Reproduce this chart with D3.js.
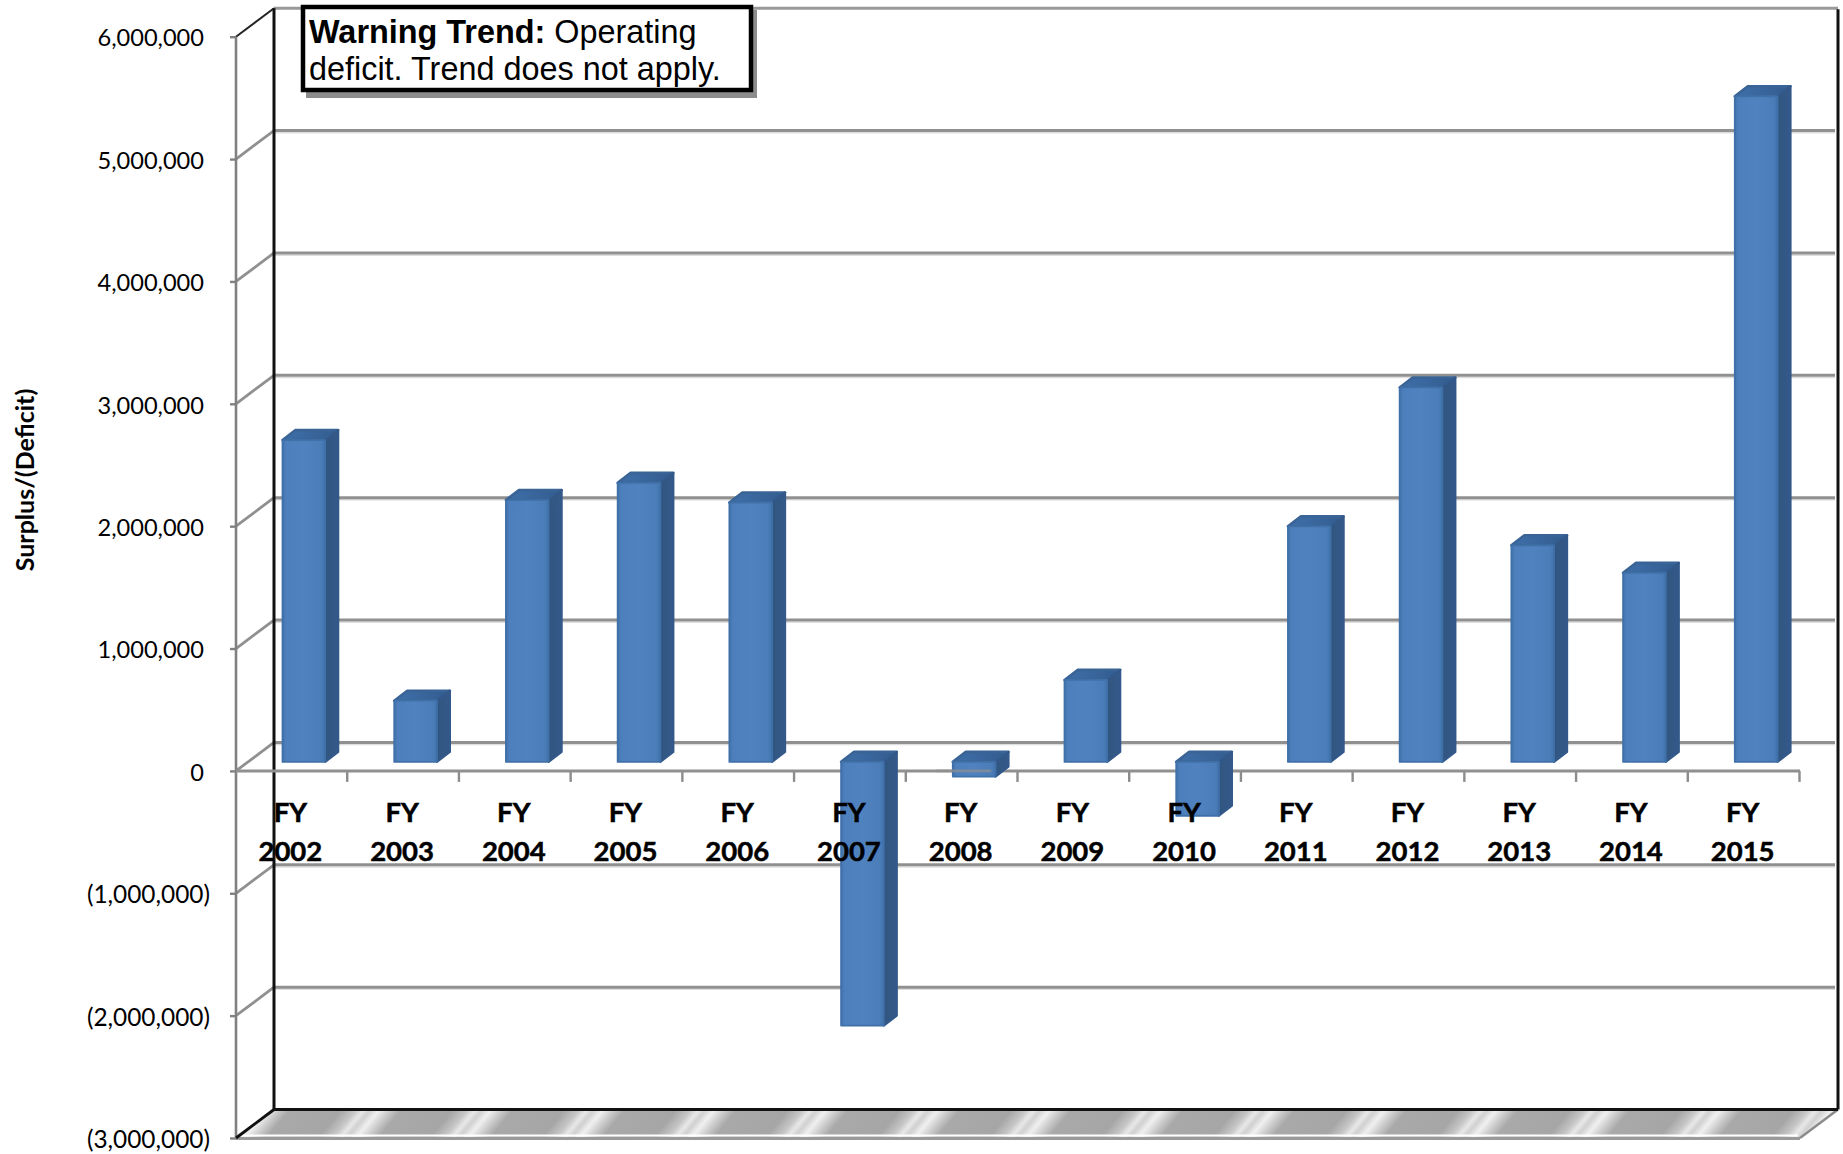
<!DOCTYPE html>
<html>
<head>
<meta charset="utf-8">
<script src="https://cdn.jsdelivr.net/npm/d3@7/dist/d3.min.js"></script>
<style>
html,body{margin:0;padding:0;background:#fff;}
svg{display:block;}
</style>
</head>
<body>
<svg id="chart" width="1843" height="1154"></svg>
<script>
const fiscalYears = ["2002","2003","2004","2005","2006","2007","2008","2009","2010","2011","2012","2013","2014","2015"];
const surplus = [2630000,500000,2140000,2280000,2120000,-2155000,-120000,670000,-440000,1925000,3060000,1770000,1545000,5440000];
const yTicks = [6000000,5000000,4000000,3000000,2000000,1000000,0,-1000000,-2000000,-3000000];
const axisTitle = "Surplus/(Deficit)";
const noteBold = "Warning Trend:";
const noteLine1 = " Operating";
const noteLine2 = "deficit. Trend does not apply.";

const W = 1843, H = 1154;
const svg = d3.select("#chart");
const defs = svg.append("defs");

// front plane scales
const y = d3.scaleLinear().domain([-3000000,6000000]).range([1138,36.7]);
const x = d3.scaleBand().domain(fiscalYears).range([236,1800]).paddingInner(0).paddingOuter(0);
const xEdge = d3.scaleLinear().domain([0,fiscalYears.length]).range([235,1799]);

// 3D offsets
const wallDx = 38, wallDy = -28.5;      // front plane -> back wall
const barPlaneDx = 12, barPlaneDy = -9; // front plane -> bar front face
const barDx = 13, barDy = -10;          // bar depth
const barW = x.bandwidth()*0.382;

// gradients
const faceGrad = defs.append("linearGradient").attr("id","face");
[[0,"#4272ab"],[0.08,"#4d7fbc"],[0.5,"#5082bf"],[0.9,"#4b7db9"],[1,"#4274ad"]].forEach(s=>faceGrad.append("stop").attr("offset",s[0]).attr("stop-color",s[1]));
const sideGrad = defs.append("linearGradient").attr("id","side");
[[0,"#30567f"],[1,"#35598a"]].forEach(s=>sideGrad.append("stop").attr("offset",s[0]).attr("stop-color",s[1]));
const topGrad = defs.append("linearGradient").attr("id","top");
[[0,"#3f6fa9"],[1,"#325c8f"]].forEach(s=>topGrad.append("stop").attr("offset",s[0]).attr("stop-color",s[1]));

const floorGrad = defs.append("linearGradient").attr("id","floorG");
[[0,"#f0f0f0"],[0.1,"#cbcbcb"],[0.2,"#a9a9a9"],[0.66,"#a6a6a6"],[0.79,"#c6c6c6"],[0.86,"#e8e8e8"],[0.92,"#d0d0d0"],[1,"#f0f0f0"]].forEach(s=>floorGrad.append("stop").attr("offset",s[0]).attr("stop-color",s[1]));
const pat = defs.append("pattern").attr("id","floorP").attr("patternUnits","userSpaceOnUse")
  .attr("width",x.bandwidth()).attr("height",40)
  .attr("patternTransform",`translate(268,${y(-3000000)+wallDy}) skewX(-40)`);
pat.append("rect").attr("width",x.bandwidth()).attr("height",40).attr("fill","url(#floorG)");

const GRID = "#909090";
const front0 = 236, frontN = 1800;

// floor
const floorY = y(-3000000);
const floor = svg.append("g");
floor.append("polygon")
  .attr("points",[[front0,floorY],[frontN,floorY],[frontN+wallDx,floorY+wallDy],[front0+wallDx,floorY+wallDy]].map(p=>p.join(",")).join(" "))
  .attr("fill","url(#floorP)");
floor.append("line").attr("x1",front0+4).attr("x2",frontN-2).attr("y1",floorY-2.5).attr("y2",floorY-2.5).attr("stroke","#fff").attr("stroke-width",2);
floor.append("line").attr("x1",front0).attr("x2",frontN).attr("y1",floorY+0.5).attr("y2",floorY+0.5).attr("stroke","#9a9a9a").attr("stroke-width",3);
floor.append("line").attr("x1",frontN).attr("x2",frontN+wallDx).attr("y1",floorY).attr("y2",floorY+wallDy).attr("stroke","#8c8c8c").attr("stroke-width",2.5);

// back wall gridlines and the diagonals
const grid = svg.append("g").attr("fill","none");
yTicks.forEach(v=>{
  if(v===-3000000) return;
  const yy = y(v)+wallDy;
  if(v!==6000000){
    grid.append("line").attr("x1",front0+wallDx).attr("x2",frontN+wallDx-3).attr("y1",yy+2.2).attr("y2",yy+2.2).attr("stroke","#dedede").attr("stroke-width",1.5);
  }
  grid.append("line").attr("x1",front0+wallDx).attr("x2",frontN+wallDx-(v===6000000?0:3)).attr("y1",yy).attr("y2",yy).attr("stroke",v===6000000?"#999":GRID).attr("stroke-width",3);
  grid.append("line").attr("x1",front0).attr("x2",front0+wallDx).attr("y1",y(v)).attr("y2",yy)
    .attr("stroke",v===6000000?"#222":GRID).attr("stroke-width",v===6000000?2:2.8);
});

// left front axis line
grid.append("line").attr("x1",front0).attr("x2",front0).attr("y1",y(6000000)).attr("y2",y(-3000000)).attr("stroke","#808080").attr("stroke-width",2.6);

// back wall frame
const frame = svg.append("g").attr("fill","none").attr("stroke","#111");
frame.append("line").attr("x1",front0+wallDx).attr("x2",front0+wallDx).attr("y1",y(6000000)+wallDy).attr("y2",floorY+wallDy).attr("stroke-width",3);
frame.append("line").attr("x1",frontN+wallDx).attr("x2",frontN+wallDx).attr("y1",y(6000000)+wallDy+1).attr("y2",floorY+wallDy).attr("stroke-width",3);
frame.append("line").attr("x1",front0+wallDx).attr("x2",frontN+wallDx).attr("y1",floorY+wallDy).attr("y2",floorY+wallDy).attr("stroke-width",3);
frame.append("line").attr("x1",front0).attr("x2",front0+wallDx).attr("y1",floorY).attr("y2",floorY+wallDy).attr("stroke-width",3);

// y axis (tick marks + labels)
const fmt = d3.format(",");
const yAxis = d3.axisLeft(y).tickValues(yTicks).tickSize(6).tickFormat(v=> v<0 ? "("+fmt(-v)+")" : fmt(v));
const yG = svg.append("g").attr("transform",`translate(${front0},0)`).call(yAxis);
yG.select(".domain").remove();
yG.selectAll(".tick line").attr("stroke","#808080").attr("stroke-width",2.4);
yG.selectAll(".tick text")
  .attr("x",v=> v<0 ? -26 : -32)
  .attr("dy","0.39em")
  .attr("fill","#000")
  .style("font-family","Lato, 'Noto Sans', sans-serif")
  .style("font-size",v=> v<0 ? "24.4px" : "23.6px");

// x axis line with tick marks at category edges
const zeroY = y(0);
const xAxis = d3.axisBottom(xEdge).tickValues(d3.range(1,fiscalYears.length+1)).tickSize(11).tickFormat("");
const xG = svg.append("g").attr("transform",`translate(0,${zeroY})`).call(xAxis);
xG.select(".domain").remove();
xG.selectAll(".tick line").attr("stroke","#8c8c8c").attr("stroke-width",2.4);
svg.append("line").attr("x1",front0).attr("x2",frontN).attr("y1",zeroY).attr("y2",zeroY).attr("stroke",GRID).attr("stroke-width",3);

// bars
const bars = svg.append("g").selectAll("g").data(fiscalYears.map((f,i)=>({f,v:surplus[i]}))).join("g");
bars.each(function(d){
  const g = d3.select(this);
  const x0 = x(d.f)+x.bandwidth()/2-barW/2+barPlaneDx;
  const x1 = x0+barW;
  const yA = y(Math.max(d.v,0))+barPlaneDy;
  const yB = y(Math.min(d.v,0))+barPlaneDy;
  const poly = (pts,fill,stroke,w)=>g.append("polygon")
    .attr("points",pts.map(p=>p.join(",")).join(" "))
    .attr("fill",fill).attr("stroke",stroke).attr("stroke-width",w).attr("stroke-linejoin","round");
  poly([[x0,yA],[x1,yA],[x1+barDx,yA+barDy],[x0+barDx,yA+barDy]],"url(#top)","#3a6496",2.6);
  poly([[x1,yA],[x1+barDx,yA+barDy],[x1+barDx,yB+barDy],[x1,yB]],"url(#side)","#33588a",2.2);
  poly([[x0,yA],[x1,yA],[x1,yB],[x0,yB]],"url(#face)","#4070a8",1.8);
});
// faint axis showing through the shallow FY 2008 bar
svg.append("line").attr("x1",x(fiscalYears[6])+30).attr("x2",x(fiscalYears[6])+85).attr("y1",zeroY).attr("y2",zeroY).attr("stroke",GRID).attr("stroke-width",2.6).attr("opacity",0.7);

// category labels (over the bars)
const labels = svg.append("g").style("font-family","Lato, 'Noto Sans', sans-serif").style("font-size","27.5px").style("font-weight","700").attr("fill","#000").attr("stroke","#000").attr("stroke-width",0.5).attr("text-anchor","middle");
fiscalYears.forEach(f=>{
  const cx = x(f)+x.bandwidth()/2-1.5;
  labels.append("text").attr("x",cx).attr("y",822).text("FY");
  labels.append("text").attr("x",cx).attr("y",861).text(f);
});

// axis title
svg.append("text").attr("transform","translate(34,480) rotate(-90)").attr("text-anchor","middle")
  .style("font-family","Lato, 'Noto Sans', sans-serif").style("font-size","25px").style("font-weight","700").attr("fill","#000").text(axisTitle);

// note box
const note = svg.append("g");
note.append("rect").attr("x",306).attr("y",10).attr("width",451).attr("height",88).attr("fill","#8c8c8c");
note.append("rect").attr("x",303).attr("y",7).attr("width",448).attr("height",83).attr("fill","#fff").attr("stroke","#000").attr("stroke-width",4.5);
const t1 = note.append("text").attr("x",309).attr("y",43).style("font-family","'Liberation Sans', Arial, sans-serif").style("font-size","32.4px").attr("fill","#000").attr("xml:space","preserve");
t1.append("tspan").style("font-weight","700").text(noteBold);
t1.append("tspan").text(noteLine1);
note.append("text").attr("x",309).attr("y",80).style("font-family","'Liberation Sans', Arial, sans-serif").style("font-size","32.4px").attr("fill","#000").text(noteLine2);
</script>
</body>
</html>
